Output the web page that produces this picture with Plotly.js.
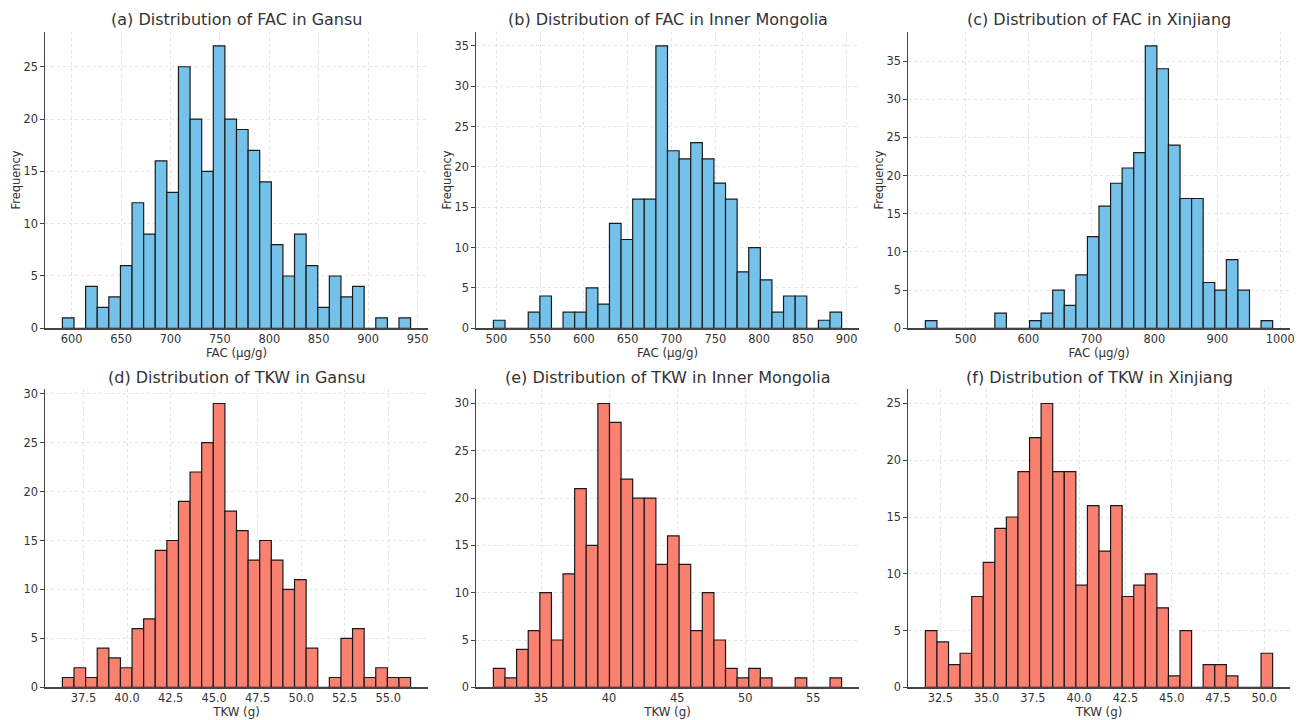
<!DOCTYPE html>
<html>
<head>
<meta charset="utf-8">
<script src="https://cdn.plot.ly/plotly-3.0.1.min.js"></script>
<style>html,body{margin:0;padding:0;background:#fff;}#chart{width:1305px;height:720px;}</style>
</head>
<body>
<div id="chart"></div>
<script>
// ---- Data: histogram data range [min, max] and 30 bin counts per panel ----
const facGansuRange = [590.6, 943.0];
const facGansuCounts = [1,0,4,2,3,6,12,9,16,13,25,20,15,27,20,19,17,14,8,5,9,6,2,5,3,4,0,1,0,1];

const facMongoliaRange = [496.6, 894.3];
const facMongoliaCounts = [1,0,0,2,4,0,2,2,5,3,13,11,16,16,35,22,21,23,21,18,16,7,10,6,2,4,4,0,1,2];

const facXinjiangRange = [436.2, 987.8];
const facXinjiangCounts = [1,0,0,0,0,0,2,0,0,1,2,5,3,7,12,16,19,21,23,37,34,24,17,17,6,5,9,5,0,1];

const tkwGansuRange = [36.29, 56.28];
const tkwGansuCounts = [1,2,1,4,3,2,6,7,14,15,19,22,25,29,18,16,13,15,13,10,11,4,0,1,5,6,1,2,1,1];

const tkwMongoliaRange = [31.50, 57.08];
const tkwMongoliaCounts = [2,1,4,6,10,5,12,21,15,30,28,22,20,20,13,16,13,6,10,5,2,1,2,1,0,0,1,0,0,1];

const tkwXinjiangRange = [31.69, 50.45];
const tkwXinjiangCounts = [5,4,2,3,8,11,14,15,19,22,25,19,19,9,16,12,16,8,9,10,7,1,5,0,2,2,1,0,0,3];

const panelTitles = [
  "(a) Distribution of FAC in Gansu",
  "(b) Distribution of FAC in Inner Mongolia",
  "(c) Distribution of FAC in Xinjiang",
  "(d) Distribution of TKW in Gansu",
  "(e) Distribution of TKW in Inner Mongolia",
  "(f) Distribution of TKW in Xinjiang"
];
const xTitles = ["FAC (µg/g)","FAC (µg/g)","FAC (µg/g)","TKW (g)","TKW (g)","TKW (g)"];
const xTickVals = [
  [600,650,700,750,800,850,900,950],
  [500,550,600,650,700,750,800,850,900],
  [500,600,700,800,900,1000],
  [37.5,40,42.5,45,47.5,50,52.5,55],
  [35,40,45,50,55],
  [32.5,35,37.5,40,42.5,45,47.5,50]
];
const xTickFormat = ["d","d","d",".1f","d",".1f"];

// ---- Build ----
const ranges = [facGansuRange, facMongoliaRange, facXinjiangRange, tkwGansuRange, tkwMongoliaRange, tkwXinjiangRange];
const counts = [facGansuCounts, facMongoliaCounts, facXinjiangCounts, tkwGansuCounts, tkwMongoliaCounts, tkwXinjiangCounts];
const colors = ["#74c1ea","#74c1ea","#74c1ea","#fa8070","#fa8070","#fa8070"];

const W = 1305, H = 720;
const colPx = [[45,428],[476,859],[908,1290]];
const rowPx = [[31.7,328.3],[389.3,687.3]];
const textColor = "#333333";
const font = {family: "DejaVu Sans, sans-serif", color: textColor};

const traces = [];
const layout = {
  width: W, height: H,
  margin: {l:0, r:0, t:0, b:0},
  paper_bgcolor: "#ffffff", plot_bgcolor: "#ffffff",
  showlegend: false,
  bargap: 0,
  font: Object.assign({size: 11.4}, font),
  annotations: []
};

for (let i = 0; i < 6; i++) {
  const [lo, hi] = ranges[i];
  const c = counts[i];
  const n = c.length;
  const w = (hi - lo) / n;
  const xs = c.map((_, k) => lo + w * (k + 0.5));
  const ax = i === 0 ? "" : String(i + 1);
  traces.push({
    type: "bar",
    x: xs, y: c, width: xs.map(() => w),
    xaxis: "x" + ax, yaxis: "y" + ax,
    marker: {color: colors[i], line: {color: "#1a1a1a", width: 1.2}},
    hoverinfo: "x+y"
  });
  const col = i % 3, row = Math.floor(i / 3);
  const xd = [colPx[col][0] / W, colPx[col][1] / W];
  const yd = [1 - rowPx[row][1] / H, 1 - rowPx[row][0] / H];
  const pad = (hi - lo) * 0.05;
  const ymax = Math.max(...c) * 1.05;
  layout["xaxis" + ax] = {
    domain: xd, anchor: "y" + ax,
    range: [lo - pad, hi + pad],
    tickmode: "array", tickvals: xTickVals[i], tickformat: xTickFormat[i],
    ticks: "",
    showline: true, linecolor: "#444", linewidth: 1.3, mirror: false,
    showgrid: true, gridcolor: "#e4e4e4", griddash: "dot", gridwidth: 1,
    zeroline: false,
    tickfont: {size: 11.4, color: textColor, family: font.family},
    title: {text: xTitles[i], font: {size: 11.8, color: textColor, family: font.family}, standoff: 1}
  };
  layout["yaxis" + ax] = {
    domain: yd, anchor: "x" + ax,
    range: [0, ymax],
    tickmode: "linear", tick0: 0, dtick: 5,
    ticks: "outside", ticklen: 3.5, tickwidth: 1, tickcolor: "#444",
    showline: true, linecolor: "#444", linewidth: 1.3, mirror: false,
    showgrid: true, gridcolor: "#e4e4e4", griddash: "dot", gridwidth: 1,
    zeroline: false,
    tickfont: {size: 11.4, color: textColor, family: font.family},
    title: row === 0 ? {text: "Frequency", font: {size: 11.4, color: textColor, family: font.family}, standoff: 0} : {text: ""}
  };
  layout.annotations.push({
    text: panelTitles[i], showarrow: false,
    xref: "paper", yref: "paper",
    x: (xd[0] + xd[1]) / 2, y: row === 0 ? 1 - 19 / H : 1 - 377 / H,
    xanchor: "center", yanchor: "middle",
    font: {size: 16, color: textColor, family: font.family}
  });
}

Plotly.newPlot("chart", traces, layout, {displayModeBar: false, staticPlot: true});
</script>
</body>
</html>
